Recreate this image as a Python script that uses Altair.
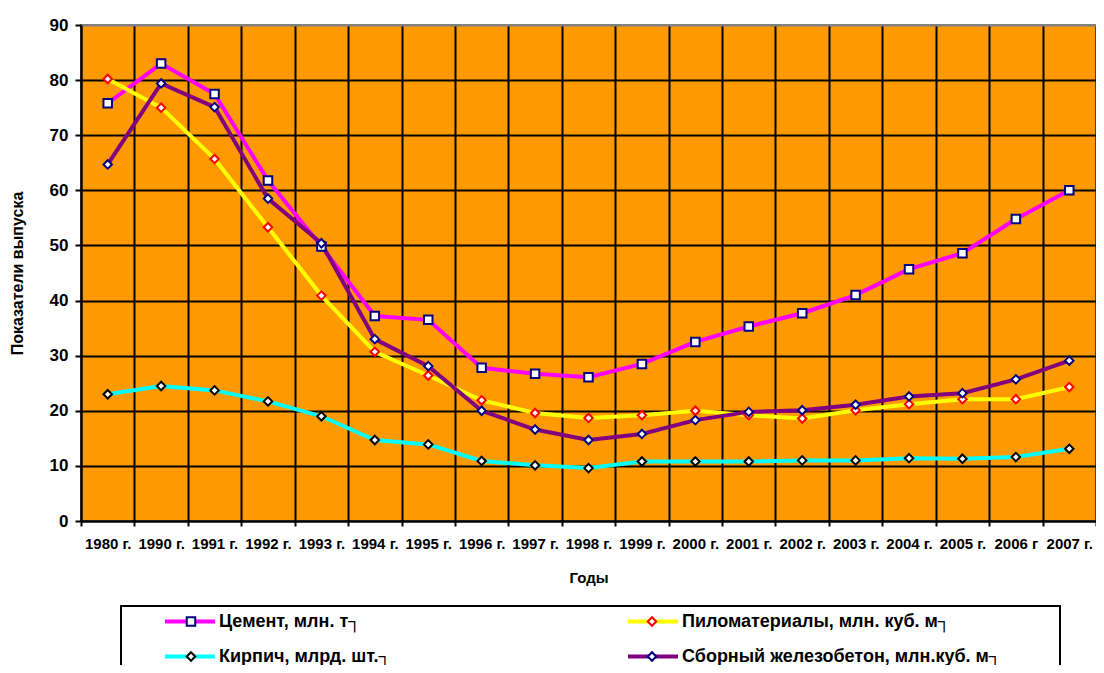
import altair as alt
import pandas as pd

years = ["1980 г.", "1990 г.", "1991 г.", "1992 г.", "1993 г.", "1994 г.", "1995 г.",
         "1996 г.", "1997 г.", "1998 г.", "1999 г.", "2000 г.", "2001 г.", "2002 г.",
         "2003 г.", "2004 г.", "2005 г.", "2006 г", "2007 г."]

series_names = ["Цемент, млн. т┐", "Пиломатериалы, млн. куб. м┐",
                "Кирпич, млрд. шт.┐", "Сборный железобетон, млн.куб. м┐"]

cement = [75.8, 83.0, 77.5, 61.8, 49.8, 37.2, 36.5, 27.8, 26.7, 26.1, 28.5, 32.5,
          35.3, 37.7, 41.0, 45.7, 48.6, 54.8, 60.0]
lumber = [80.2, 75.0, 65.7, 53.3, 40.9, 30.7, 26.4, 21.9, 19.6, 18.7, 19.2, 20.0,
          19.2, 18.6, 20.1, 21.2, 22.1, 22.1, 24.3]
brick = [23.0, 24.5, 23.7, 21.7, 19.0, 14.7, 13.9, 10.9, 10.1, 9.6, 10.8, 10.8,
         10.8, 11.0, 11.0, 11.4, 11.3, 11.6, 13.1]
concrete = [64.7, 79.4, 75.1, 58.5, 50.4, 33.0, 28.1, 20.0, 16.6, 14.7, 15.8, 18.3,
            19.8, 20.1, 21.1, 22.6, 23.2, 25.7, 29.1]

line_colors = ["#FF00FF", "#FFFF00", "#00FFFF", "#800080"]
marker_strokes = ["#000080", "#FF0000", "#000000", "#000080"]
marker_shapes = ["square", "diamond", "diamond", "diamond"]

rows = []
for name, vals in zip(series_names, [cement, lumber, brick, concrete]):
    for yr, v in zip(years, vals):
        rows.append({"year": yr, "value": v, "series": name, "series_m": name})
df = pd.DataFrame(rows)

FONT = "Liberation Sans, Arial, Helvetica, sans-serif"

# blank (invisible) padding glyphs widen the legend frame like the reference box
label_expr_a = ("length(datum.label) > 30 ? datum.label + '"
                + "\u2800" * 4 + "' : datum.label")

common_leg = dict(
    title=None, orient="none", legendX=40, legendY=581, columns=2, direction="horizontal",
    gridAlign="each", clipHeight=19,
    labelFont=FONT, labelFontSize=18, labelFontWeight="bold", labelColor="black",
    labelLimit=800, padding=6, rowPadding=16,
)

legA = alt.Legend(
    symbolType="stroke", symbolSize=2500, symbolStrokeWidth=4, symbolOffset=36,
    labelOffset=2, strokeColor="black", columnPadding=198, labelExpr=label_expr_a,
    **common_leg,
)
legB = alt.Legend(
    symbolSize=72, symbolStrokeWidth=2, symbolFillColor="white", symbolOffset=55,
    labelOffset=0, labelExpr="''", columnPadding=388,
    **common_leg,
)

x_enc = alt.X(
    "year:N", sort=years,
    scale=alt.Scale(type="band", paddingInner=0, paddingOuter=0),
    axis=alt.Axis(
        tickBand="extent", grid=True, gridColor="black", gridWidth=2,
        domainColor="black", domainWidth=2, tickColor="black", tickWidth=2, tickSize=5,
        labelAngle=0, labelFont=FONT, labelFontSize=15, labelFontWeight="bold",
        labelColor="black", labelPadding=10, labelOverlap=False, labelLimit=200,
        title="Годы", titleFont=FONT, titleFontSize=15, titleFontWeight="bold",
        titleColor="black", titlePadding=19,
    ),
)
y_enc = alt.Y(
    "value:Q",
    scale=alt.Scale(domain=[0, 90], nice=False),
    axis=alt.Axis(
        values=list(range(0, 91, 10)), grid=True,
        gridColor={"condition": {"test": "datum.value >= 90", "value": "#808080"}, "value": "black"},
        gridWidth=2, domainColor="black", domainWidth=2, tickColor="black", tickWidth=2,
        tickSize=6, labelFont=FONT, labelFontSize=17, labelFontWeight="bold",
        labelColor="black", labelPadding=7,
        title="Показатели выпуска", titleFont=FONT, titleFontSize=16,
        titleFontWeight="bold", titleColor="black", titlePadding=24,
    ),
)

lines = alt.Chart(df).mark_line(strokeWidth=4).encode(
    x=x_enc, y=y_enc,
    color=alt.Color("series:N", sort=series_names,
                    scale=alt.Scale(range=line_colors), legend=legA),
)
points = alt.Chart(df).mark_point(filled=True, fill="white", strokeWidth=2, size=72, opacity=1).encode(
    x=x_enc, y=y_enc,
    shape=alt.Shape("series_m:N",
                    scale=alt.Scale(domain=series_names, range=marker_shapes), legend=legB),
    stroke=alt.Stroke("series_m:N",
                      scale=alt.Scale(domain=series_names, range=marker_strokes), legend=legB),
)

chart = alt.layer(lines, points).properties(
    width=1015, height=496,
    autosize=alt.AutoSizeParams(type="none"),
    padding={"left": 73, "top": 17, "right": 0, "bottom": 144},
    background="white",
).configure_view(
    fill="#FF9900", stroke="#808080", strokeWidth=2,
).configure_legend(
    strokeWidth=2,
)

chart.save("out.html", embed_options={"renderer": "svg", "actions": False})
